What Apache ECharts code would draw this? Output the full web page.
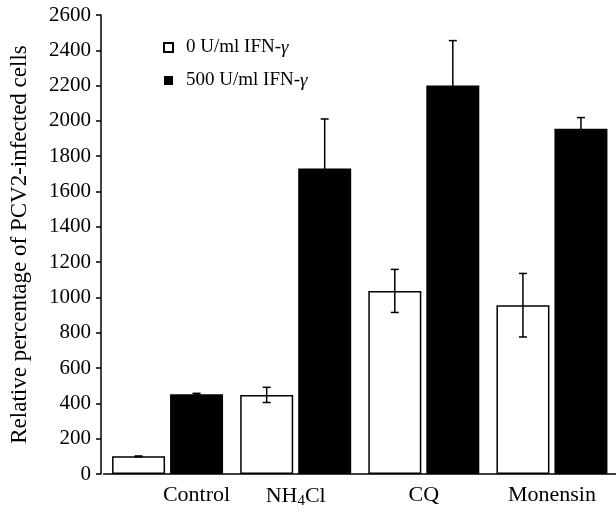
<!DOCTYPE html>
<html>
<head>
<meta charset="utf-8">
<script src="https://cdn.jsdelivr.net/npm/echarts@6/dist/echarts.min.js"></script>
<style>html,body{margin:0;padding:0;background:#fff}#c{width:616px;height:514px}</style>
</head>
<body>
<div id="c"></div>
<script>
var categories = ['Control', 'NH4Cl', 'CQ', 'Monensin'];
var seriesNames = ['0 U/ml IFN-γ', '500 U/ml IFN-γ'];
var values0 = [100, 448, 1037, 956];
var errors0 = [2, 43, 122, 180];
var values500 = [452, 1731, 2200, 1955];
var errors500 = [5, 280, 255, 64];
var yTicks = {min: 0, max: 2600, interval: 200};
var yName = 'Relative percentage of PCV2-infected cells';

var FONT = '"Liberation Serif", "Times New Roman", serif';
var BAR_W = 53, BAR_GAP = 5;
var chart = echarts.init(document.getElementById('c'));

function errData(vals, errs) {
  return vals.map(function (v, i) { return [i, v, errs[i]]; });
}
function errRender(shift) {
  return function (params, api) {
    var i = api.value(0), v = api.value(1), e = api.value(2);
    var top = api.coord([i, v + e]);
    var bot = api.coord([i, v - e]);
    var x = top[0] + shift;
    var cap = 4;
    var st = {stroke: '#000', lineWidth: 1.5};
    return {
      type: 'group',
      children: [
        {type: 'line', shape: {x1: x, y1: top[1], x2: x, y2: bot[1]}, style: st},
        {type: 'line', shape: {x1: x - cap, y1: top[1], x2: x + cap, y2: top[1]}, style: st},
        {type: 'line', shape: {x1: x - cap, y1: bot[1], x2: x + cap, y2: bot[1]}, style: st}
      ]
    };
  };
}

var labelFmt = function (v) {
  if (v === 'Control') return '{c|Control}';
  if (v === 'NH4Cl') return '{n|NH}{s|4}{n|Cl}';
  return '{n|' + v + '}';
};

chart.setOption({
  animation: false,
  backgroundColor: '#fff',
  textStyle: {fontFamily: FONT},
  grid: {left: 103.5, width: 512.5, top: 15, bottom: 40, containLabel: false},
  legend: {
    orient: 'vertical', left: 158, top: 33, itemGap: 14,
    itemWidth: 9, itemHeight: 9, icon: 'rect',
    data: seriesNames,
    formatter: function (n) { return n.replace('γ', '{g|γ}'); },
    textStyle: {
      fontFamily: FONT, fontSize: 19, color: '#000', padding: [0, 0, 0, 8],
      rich: {g: {fontFamily: FONT, fontSize: 19, fontStyle: 'italic', color: '#000'}}
    }
  },
  xAxis: {
    type: 'category', data: categories,
    axisLine: {lineStyle: {color: '#000', width: 1.5}},
    axisTick: {length: 6, lineStyle: {color: '#000', width: 1.5}},
    axisLabel: {
      margin: 10, color: '#000', formatter: labelFmt,
      rich: {
        c: {fontFamily: FONT, fontSize: 22, color: '#000', padding: [0, 0, 0, 58]},
        n: {fontFamily: FONT, fontSize: 22, color: '#000'},
        s: {fontFamily: FONT, fontSize: 15, color: '#000', verticalAlign: 'bottom', padding: [10, 0, 0, 0]}
      }
    }
  },
  yAxis: {
    type: 'value', min: yTicks.min, max: yTicks.max, interval: yTicks.interval,
    offset: 2.5,
    name: yName, nameLocation: 'middle', nameGap: 70,
    nameTextStyle: {fontFamily: FONT, fontSize: 23, color: '#000'},
    splitLine: {show: false},
    axisLine: {show: true, lineStyle: {color: '#000', width: 1.5}},
    axisTick: {show: true, length: 5, lineStyle: {color: '#000', width: 1.5}},
    axisLabel: {fontFamily: FONT, fontSize: 21, color: '#000', margin: 10,
      formatter: function (v) { return String(v); }}
  },
  series: [
    {name: seriesNames[0], type: 'bar', data: values0, barWidth: BAR_W, barGap: (BAR_GAP / BAR_W * 100) + '%',
     itemStyle: {color: '#fff', borderColor: '#000', borderWidth: 1.5}},
    {name: seriesNames[1], type: 'bar', data: values500, barWidth: BAR_W,
     itemStyle: {color: '#000', borderColor: '#000', borderWidth: 0}},
    {type: 'custom', data: errData(values0, errors0), renderItem: errRender(-(BAR_W + BAR_GAP) / 2), z: 10},
    {type: 'custom', data: errData(values500, errors500), renderItem: errRender((BAR_W + BAR_GAP) / 2), z: 10}
  ]
});
</script>
</body>
</html>
